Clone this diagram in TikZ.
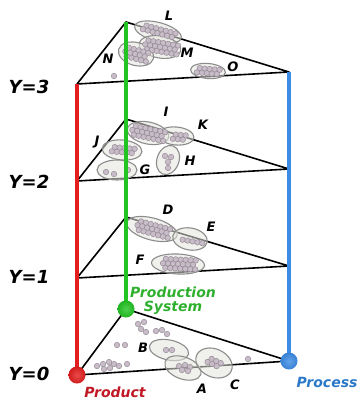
\documentclass[tikz,border=0pt]{standalone}
\usepackage{fontspec}
\setsansfont{DejaVu Sans}
\usepackage{xcolor}
\usetikzlibrary{shapes.geometric,positioning}
\definecolor{prodred}{HTML}{E41E1E}
\definecolor{prodtext}{HTML}{C01824}
\definecolor{sysgreen}{HTML}{22C422}
\definecolor{systext}{HTML}{2EB02E}
\definecolor{procblue}{HTML}{3C8CE6}
\definecolor{proctext}{HTML}{2A78C8}
\definecolor{clgray}{HTML}{8C8C8C}
\definecolor{clfill}{HTML}{E4E4DE}
\definecolor{dotfill}{HTML}{C8BCC8}
\definecolor{dotedge}{HTML}{968C96}
\tikzset{
  layeredge/.style={draw=black, line width=1.6pt, line join=round},
  axisline/.style={draw=#1, line width=3.4pt},
  ball/.style={circle, inner color=#1!80!white, outer color=#1!92!black,
    minimum size=17pt, inner sep=0pt},
  cluster/.style 2 args={ellipse, draw=clgray, fill=clfill, fill opacity=0.55,
    line width=1.1pt, minimum width=#1pt, minimum height=#2pt, inner sep=0pt},
  member/.style={circle, draw=dotedge, fill=dotfill, line width=0.5pt,
    minimum size=5.5pt, inner sep=0pt},
  tag/.style={font=\fontsize{13}{15}\selectfont\sffamily\bfseries\itshape, inner sep=0pt},
  levelname/.style={font=\fontsize{18}{20}\selectfont\sffamily\bfseries\itshape, inner sep=0pt},
  axisname/.style={font=\fontsize{14}{14}\selectfont\sffamily\bfseries\itshape,
    text=#1, align=center, inner sep=0pt},
}
% dots of one group: centre x, centre y, angle, half columns, rows
\newcommand{\clump}[5]{%
  \begin{scope}[shift={(#1,#2)}, rotate=#3]
    \foreach \row in {1,...,#5}
      \foreach \col in {-#4,...,#4}
        \node[member] at ({\col*5+mod(\row,2)*2.5}, {(\row-(#5+1)/2)*4.5}) {};
  \end{scope}}

\begin{document}
\begin{tikzpicture}[x=1pt, y=-1pt]
\useasboundingbox (0,0) rectangle (359,403);

% corners of the layers
\foreach \k/\yr/\yg/\yb in {0/375/309/361, 1/278/217/266, 2/181/119/169, 3/84/22/72}{
  \coordinate (r\k) at (77,\yr);
  \coordinate (g\k) at (126,\yg);
  \coordinate (b\k) at (289,\yb);
  \draw[layeredge] (r\k) -- (g\k) -- (b\k) -- cycle;
}

% Y=3
\node[cluster={48}{19}, rotate=-15] (cL) at (158,32) {};
\node[cluster={42}{22}, rotate=-10] (cM) at (160,47) {};
\node[cluster={36}{23}, rotate=-15] (cN) at (136,54) {};
\node[cluster={35}{15}, rotate=-5] (cO) at (208,71) {};
\clump{158}{31}{-15}{3}{2}
\clump{160}{47}{-10}{3}{3}
\clump{135}{54}{-15}{2}{3}
\clump{207}{71}{-5}{2}{2}
\node[member] at (114,76) {};

% Y=2
\node[cluster={42}{22}, rotate=-12] (cI) at (148,133) {};
\node[cluster={36}{18}, rotate=-5] (cK) at (176,136) {};
\node[cluster={40}{20}, rotate=-5] (cJ) at (122,150) {};
\node[cluster={40}{20}] (cG) at (117,170) {};
\node[cluster={30}{22}, rotate=70] (cH) at (168,160) {};
\clump{147}{133}{-12}{3}{3}
\clump{178}{137}{-5}{1}{2}
\clump{122}{150}{-5}{2}{2}
\foreach \x/\y in {106/172, 114/174, 128/170, 165/156, 171/157, 168/162, 168/168}
  \node[member] at (\x,\y) {};

% Y=1
\node[cluster={52}{22}, rotate=-15] (cD) at (152,229) {};
\node[cluster={35}{22}, rotate=-10] (cE) at (190,239) {};
\node[cluster={53}{20}, rotate=-3] (cF) at (178,264) {};
\clump{152}{229}{-15}{3}{3}
\clump{190}{241}{-10}{2}{1}
\clump{178}{264}{-3}{3}{3}

% Y=0
\node[cluster={40}{20}, rotate=-12] (cB) at (169,350) {};
\node[cluster={38}{22}, rotate=-20] (cA) at (183,368) {};
\node[cluster={38}{28}, rotate=-25] (cC) at (214,363) {};
\clump{213}{362}{-25}{1}{2}
\foreach \x/\y in {166/350, 172/350, 179/366, 185/365, 190/367, 182/370, 188/371,
  138/324, 144/322, 141/329, 146/332, 156/331, 162/330, 167/334, 117/345, 125/345,
  97/366, 103/364, 109/362, 114/364, 119/366, 104/369, 110/368, 127/364, 248/359}
  \node[member] at (\x,\y) {};

% axes
\draw[axisline=prodred] (r3) -- (r0);
\draw[axisline=sysgreen] (g3) -- (g0);
\draw[axisline=procblue] (b3) -- (b0);
\node[ball=prodred] (product) at (r0) {};
\node[ball=sysgreen] (system) at (g0) {};
\node[ball=procblue] (process) at (b0) {};

\node[axisname=prodtext] (productname) at (115,392) {Product};
\node[axisname=systext] (systemname) at (173,301) {Production\\System};
\node[axisname=proctext] (processname) at (327,382) {Process};

% levels
\node[levelname] (y3) at (29,87) {Y=3};
\node[levelname] (y2) at (29,182) {Y=2};
\node[levelname] (y1) at (29,277) {Y=1};
\node[levelname] (y0) at (29,374) {Y=0};

% groups
\node[tag] (tL) at (169,16) {L};
\node[tag] (tN) at (108,59) {N};
\node[tag] (tM) at (187,53) {M};
\node[tag] (tO) at (233,67) {O};
\node[tag] (tI) at (166,112) {I};
\node[tag] (tK) at (203,125) {K};
\node[tag] (tJ) at (97,142) {J};
\node[tag] (tH) at (190,161) {H};
\node[tag] (tG) at (145,170) {G};
\node[tag] (tD) at (168,210) {D};
\node[tag] (tE) at (211,227) {E};
\node[tag] (tF) at (140,260) {F};
\node[tag] (tB) at (143,348) {B};
\node[tag] (tA) at (202,389) {A};
\node[tag] (tC) at (235,385) {C};
\end{tikzpicture}
\end{document}
